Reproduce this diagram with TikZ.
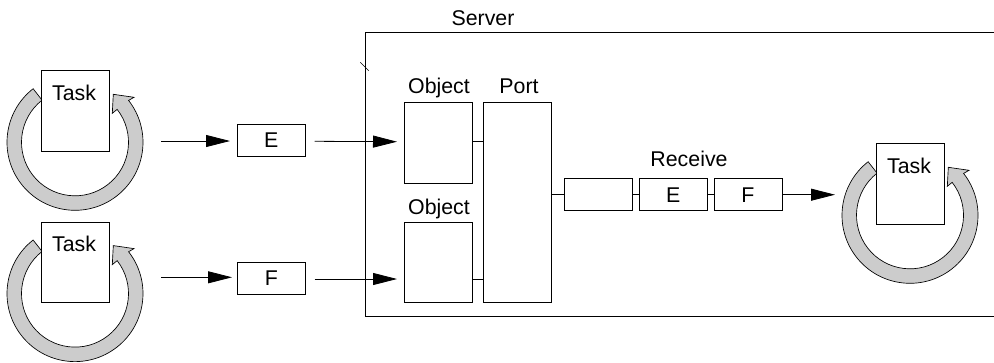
\documentclass[tikz,border=0pt]{standalone}
\usepackage{fontspec}
\setmainfont{Liberation Sans}
\usetikzlibrary{arrows.meta}

\tikzset{
  plain/.style={line width=0.6pt},
  boxnode/.style={draw, plain, fill=white, inner sep=0pt, minimum width=51pt, minimum height=24pt, font=\fontsize{16}{19}\selectfont},
  tallnode/.style={boxnode, minimum height=60.3pt},
  labelnode/.style={anchor=base, inner sep=0pt, font=\fontsize{16}{19}\selectfont},
  flow/.style={plain, -{Triangle[length=18pt,width=9pt]}}
}

\begin{document}
\begin{tikzpicture}[x=0.75pt,y=0.75pt]
  \useasboundingbox (0,0) rectangle (994,362);

  % the server outline is open on its right side
  \coordinate (servernw) at (365.7,330);
  \coordinate (serversw) at (365.7,45.3);
  \coordinate (serverne) at (994,330);
  \coordinate (serverse) at (994,45.3);
  \draw[plain] (serverne) -- (servernw) -- (serversw) -- (serverse);
  \coordinate (ticka) at (360.3,299.7);
  \coordinate (tickb) at (368.7,291.3);
  \draw[line width=0.4pt] (ticka) -- (tickb);

  % tasks with their loops
  \foreach \name/\cx/\cy in {taska/75/219.7, taskb/75/68.4, taskc/910/146.7}
  {
    \begin{scope}[shift={(\cx,\cy)}]
      \draw[line width=0.5pt, fill=black!20] (128:68) arc[start angle=128, end angle=398, radius=68]
        -- (59,45) -- (38.3,48) -- (37.3,29) -- (38:53.5) arc[start angle=398, end angle=128, radius=53.5] -- cycle;
      \node[tallnode] (\name) at (0,31.3) {};
      \node[labelnode] (\name-label) at (-1,42.3) {Task};
    \end{scope}
  }

  \node[boxnode] (msge) at (271.3,221.5) {E};
  \node[boxnode] (msgf) at (271.3,83.5) {F};

  \node[tallnode] (objecta) at (438.7,219) {};
  \node[tallnode] (objectb) at (438.7,99.5) {};
  \node[draw, plain, inner sep=0pt, minimum width=51pt, minimum height=149.5pt] (port) at (517,159.5) {};

  \node[boxnode] (queuea) at (598.7,167.3) {};
  \node[boxnode] (queueb) at (673.3,167.3) {E};
  \node[boxnode] (queuec) at (748,167.3) {F};

  \node[labelnode] (serverlabel) at (483,337) {Server};
  \node[labelnode] (objectalabel) at (439,268.7) {Object};
  \node[labelnode] (portlabel) at (519,268.7) {Port};
  \node[labelnode] (objectblabel) at (439,148) {Object};
  \node[labelnode] (receivelabel) at (689,195.3) {Receive};

  % free ends of the arrows
  \coordinate (taskaout) at (161,221);
  \coordinate (msgein) at (230,221);
  \coordinate (taskbout) at (161,84.7);
  \coordinate (msgfin) at (232,84.7);
  \coordinate (msgeout) at (314.7,220.7);
  \coordinate (objectain) at (397,220.3);
  \coordinate (msgfout) at (314.7,83);
  \coordinate (objectbin) at (397,83);
  \coordinate (taskcin) at (835,167.3);

  \path[flow]
  (taskaout) edge (msgein)
  (taskbout) edge (msgfin)
  (msgeout) edge (objectain)
  (msgfout) edge (objectbin)
  (queuec) edge (taskcin);
  \path[plain]
  (objectain -| objecta.east) edge (objectain -| port.west)
  (objectbin -| objectb.east) edge (objectbin -| port.west)
  (queuea.west -| port.east) edge (queuea.west)
  (queuea) edge (queueb)
  (queueb) edge (queuec);
\end{tikzpicture}
\end{document}
